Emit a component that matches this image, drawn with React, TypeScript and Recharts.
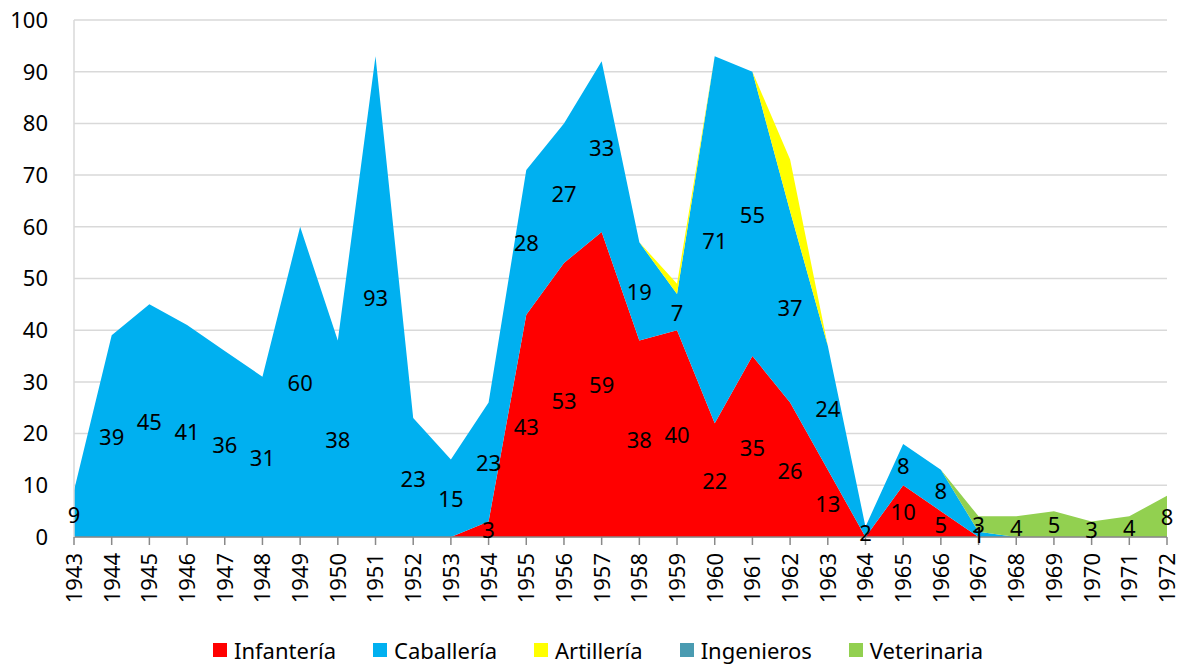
import {
  Area,
  CartesianGrid,
  ComposedChart,
  LabelList,
  Line,
  XAxis,
  YAxis,
} from "recharts";

const years = [
  "1943", "1944", "1945", "1946", "1947", "1948", "1949", "1950", "1951", "1952",
  "1953", "1954", "1955", "1956", "1957", "1958", "1959", "1960", "1961", "1962",
  "1963", "1964", "1965", "1966", "1967", "1968", "1969", "1970", "1971", "1972",
];

const infanteria = [
  0, 0, 0, 0, 0, 0, 0, 0, 0, 0,
  0, 3, 43, 53, 59, 38, 40, 22, 35, 26,
  13, 0, 10, 5, 0, 0, 0, 0, 0, 0,
];
const caballeria = [
  9, 39, 45, 41, 36, 31, 60, 38, 93, 23,
  15, 23, 28, 27, 33, 19, 7, 71, 55, 37,
  24, 2, 8, 8, 1, 0, 0, 0, 0, 0,
];
const artilleria = [
  0, 0, 0, 0, 0, 0, 0, 0, 0, 0,
  0, 0, 0, 0, 0, 0, 2, 0, 0, 10,
  0, 0, 0, 0, 0, 0, 0, 0, 0, 0,
];
const ingenieros = [
  0, 0, 0, 0, 0, 0, 0, 0, 0, 0,
  0, 0, 0, 0, 0, 0, 0, 0, 0, 0,
  0, 0, 0, 0, 0, 0, 0, 0, 0, 0,
];
const veterinaria = [
  0, 0, 0, 0, 0, 0, 0, 0, 0, 0,
  0, 0, 0, 0, 0, 0, 0, 0, 0, 0,
  0, 0, 0, 0, 3, 4, 5, 3, 4, 8,
];

const yTicks = [0, 10, 20, 30, 40, 50, 60, 70, 80, 90, 100];

const series = [
  { key: "inf", name: "Infantería", color: "#FF0000" },
  { key: "cab", name: "Caballería", color: "#00B0F0" },
  { key: "art", name: "Artillería", color: "#FFFF00" },
  { key: "ing", name: "Ingenieros", color: "#4A9BB1" },
  { key: "vet", name: "Veterinaria", color: "#92D050" },
];

// label positions sit in the middle of each stacked band
const data = years.map((year, i) => {
  const inf = infanteria[i];
  const cab = caballeria[i];
  const art = artilleria[i];
  const ing = ingenieros[i];
  const vet = veterinaria[i];
  return {
    year,
    inf,
    cab,
    art,
    ing,
    vet,
    infMid: inf / 2,
    cabMid: inf + cab / 2,
    vetMid: inf + cab + art + ing + vet / 2,
  };
});

const FONT = '"Noto Sans", "Open Sans", sans-serif';

function YearTick(props: any) {
  const { x, y, payload } = props;
  return (
    <g transform={`translate(${x},${y})`}>
      <text
        transform="rotate(-90)"
        textAnchor="end"
        dy="0.36em"
        fontSize={22}
        fontFamily={FONT}
        fill="#000"
      >
        {payload.value}
      </text>
    </g>
  );
}

function BandLabel(props: any) {
  const { x, y, value } = props;
  if (!value) return null;
  return (
    <text
      x={x}
      y={y}
      textAnchor="middle"
      dominantBaseline="central"
      fontSize={22}
      fontFamily={FONT}
      fill="#000"
    >
      {value}
    </text>
  );
}

export default function App() {
  return (
    <div
      style={{
        position: "absolute",
        left: 0,
        top: 0,
        width: 1184,
        height: 664,
        background: "#fff",
        fontFamily: FONT,
      }}
    >
      <ComposedChart
        width={1184}
        height={664}
        data={data}
        margin={{ top: 20, right: 17, bottom: 67, left: 0 }}
      >
        <CartesianGrid vertical={false} stroke="#D9D9D9" strokeWidth={1.5} />
        <XAxis
          dataKey="year"
          height={60}
          interval={0}
          tick={<YearTick />}
          tickSize={8}
          tickMargin={8}
          axisLine={{ stroke: "#898989", strokeWidth: 1.5 }}
          tickLine={{ stroke: "#898989", strokeWidth: 1.5 }}
        />
        <YAxis
          width={74}
          domain={[0, 100]}
          ticks={yTicks}
          interval={0}
          tickSize={0}
          tickMargin={26}
          tick={{ fontSize: 22, fontFamily: FONT, fill: "#000" }}
          axisLine={{ stroke: "#D9D9D9", strokeWidth: 1.5 }}
          tickLine={false}
        />
        <YAxis
          yAxisId="right"
          orientation="right"
          width={0}
          domain={[0, 100]}
          tick={false}
          tickLine={false}
          axisLine={{ stroke: "#D9D9D9", strokeWidth: 1.5 }}
        />
        {series.map((s) => (
          <Area
            key={s.key}
            type="linear"
            dataKey={s.key}
            name={s.name}
            stackId="units"
            fill={s.color}
            fillOpacity={1}
            stroke="none"
            isAnimationActive={false}
          />
        ))}
        <Line
          dataKey="infMid"
          stroke="none"
          dot={false}
          activeDot={false}
          legendType="none"
          isAnimationActive={false}
        >
          <LabelList dataKey="inf" content={<BandLabel />} />
        </Line>
        <Line
          dataKey="cabMid"
          stroke="none"
          dot={false}
          activeDot={false}
          legendType="none"
          isAnimationActive={false}
        >
          <LabelList dataKey="cab" content={<BandLabel />} />
        </Line>
        <Line
          dataKey="vetMid"
          stroke="none"
          dot={false}
          activeDot={false}
          legendType="none"
          isAnimationActive={false}
        >
          <LabelList dataKey="vet" content={<BandLabel />} />
        </Line>
      </ComposedChart>

      <div
        style={{
          position: "absolute",
          left: 213,
          top: 635,
          height: 30,
          display: "flex",
          alignItems: "center",
          gap: 37,
        }}
      >
        {series.map((s) => (
          <div key={s.key} style={{ display: "flex", alignItems: "center" }}>
            <span
              style={{
                display: "inline-block",
                width: 14,
                height: 14,
                background: s.color,
                marginRight: 7,
              }}
            />
            <span style={{ fontSize: 22, lineHeight: "30px", color: "#000" }}>
              {s.name}
            </span>
          </div>
        ))}
      </div>
    </div>
  );
}
